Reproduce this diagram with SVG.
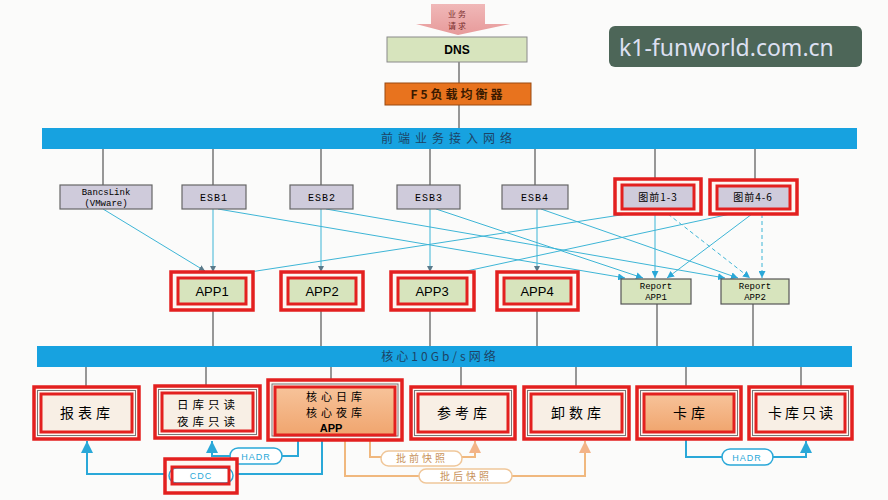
<svg xmlns="http://www.w3.org/2000/svg" width="888" height="500" viewBox="0 0 888 500">
<defs>
<style>
.gw{fill:#cfcbdb;stroke:#666;stroke-width:1.2}
.red{fill:none;stroke:#e3201f;stroke-width:3}
.redw{fill:#fdf7f2;stroke:#e3201f;stroke-width:3.5}
.app{fill:#d7e4bd;stroke:#e3201f;stroke-width:3}
.rep{fill:#d7e4bd;stroke:#555;stroke-width:1.2}
.db{fill:#f8efe5;stroke:#e3201f;stroke-width:3}
.dbo{stroke:#e3201f;stroke-width:3}
.thin{fill:none;stroke:#777;stroke-width:1}
.bar{fill:#17a2e0}
.vl{stroke:#555;stroke-width:1.2;fill:none}
.cy{stroke:#3db5d6;stroke-width:1;fill:none}
.cyd{stroke:#3db5d6;stroke-width:1;fill:none;stroke-dasharray:4 3}
.bl{stroke:#2aa8d8;stroke-width:2;fill:none}
.tan{stroke:#f0b87e;stroke-width:2;fill:none}
.pillb{fill:#fff;stroke:#2aa8d8;stroke-width:1.5}
.pillt{fill:#fff;stroke:#f0c79a;stroke-width:1.5}
.t{font-family:"Liberation Sans",Arial,sans-serif;text-anchor:middle}
.c{font-family:"Noto Sans CJK SC",sans-serif;text-anchor:middle}
.m{font-family:"Liberation Mono","DejaVu Sans Mono",monospace;text-anchor:middle}
</style>
<marker id="ac" viewBox="0 0 10 10" refX="10" refY="5" markerWidth="7" markerHeight="7" markerUnits="userSpaceOnUse" orient="auto"><path d="M0,0 L10,5 L0,10 z" fill="#2aa8d8"/></marker>
<marker id="ad" viewBox="0 0 10 10" refX="10" refY="5" markerWidth="6" markerHeight="6" markerUnits="userSpaceOnUse" orient="auto"><path d="M0,0 L10,5 L0,10 z" fill="#5a7a8a"/></marker>
<marker id="ab" viewBox="0 0 10 10" refX="10" refY="5" markerWidth="12" markerHeight="12" markerUnits="userSpaceOnUse" orient="auto"><path d="M0,0 L10,5 L0,10 z" fill="#2aa8d8"/></marker>
<marker id="at" viewBox="0 0 10 10" refX="10" refY="5" markerWidth="12" markerHeight="12" markerUnits="userSpaceOnUse" orient="auto"><path d="M0,0 L10,5 L0,10 z" fill="#f3b488"/></marker>
<linearGradient id="pk" x1="0" y1="0" x2="0" y2="1"><stop offset="0" stop-color="#f0b8b8"/><stop offset="1" stop-color="#e79a9a"/></linearGradient>
<linearGradient id="or" x1="0" y1="0" x2="0" y2="1"><stop offset="0" stop-color="#f7c39a"/><stop offset="1" stop-color="#f0a56e"/></linearGradient>
</defs>
<rect width="888" height="500" fill="#fbfbfa"/>

<g id="connectors">
<path class="vl" d="M459,62 V83 M459,105 V128"/>
<path class="vl" d="M103,149 V185 M213,149 V185 M321,149 V185 M430,149 V185 M535,149 V185 M655,149 V185 M755,149 V186"/>
<path class="cy" d="M103,209 L205,271" marker-end="url(#ad)"/>
<path class="cy" d="M213,209 V272" marker-end="url(#ad)"/>
<path class="cy" d="M321,209 V272" marker-end="url(#ad)"/>
<path class="cy" d="M430,209 V272" marker-end="url(#ad)"/>
<path class="cy" d="M537,209 V272" marker-end="url(#ad)"/>
<path class="cy" d="M218,209 L625,278" marker-end="url(#ac)"/>
<path class="cy" d="M326,209 L725,278" marker-end="url(#ac)"/>
<path class="cy" d="M436,209 L643,278" marker-end="url(#ac)"/>
<path class="cy" d="M541,209 L738,278" marker-end="url(#ac)"/>
<path class="cy" d="M640,212 L250,272"/>
<path class="cy" d="M735,213 L462,272"/>
<path class="cy" d="M655,214 V278" marker-end="url(#ac)"/>
<path class="cy" d="M752,214 L667,278" marker-end="url(#ac)"/>
<path class="cyd" d="M668,214 L750,278" marker-end="url(#ac)"/>
<path class="cyd" d="M762,214 V278" marker-end="url(#ac)"/>
<path class="vl" d="M213,310 V346 M321,310 V346 M430,310 V346 M537,310 V346 M657,304 V346 M753,304 V346"/>
<path class="vl" d="M86,367 V387 M206,367 V386 M331,367 V380 M461,367 V387 M576,367 V387 M686,367 V387 M801,367 V387"/>
<path class="bl" d="M298,440 V456 H212 V441" marker-end="url(#ab)"/>
<path class="bl" d="M322,440 V474 H87 V441" marker-end="url(#ab)"/>
<path class="tan" d="M370,440 V457 H475 V441" marker-end="url(#at)"/>
<path class="tan" d="M345,440 V476 H585 V441" marker-end="url(#at)"/>
<path class="bl" d="M686,439 V457 H806 V441" marker-end="url(#ab)"/>
</g>

<g id="request">
<path d="M431,4 H485 V24 H510 L458,35 L416,24 H431 Z" fill="url(#pk)"/>
<text class="c" x="458" y="17" font-size="8" fill="#7a2e2e" letter-spacing="2">业务</text>
<text class="c" x="458" y="29" font-size="8" fill="#7a2e2e" letter-spacing="2">请求</text>
</g>
<g id="dns"><rect x="387" y="37" width="140" height="25" fill="#d7e4bd" stroke="#8a8a8a"/><text class="t" x="457" y="54" font-size="12" font-weight="bold">DNS</text></g>
<g id="f5"><rect x="385" y="83" width="146" height="22" fill="#e8731e" stroke="#9a4a10"/><text class="c" x="458" y="99" font-size="12" font-weight="bold" fill="#3a1a00" letter-spacing="3">F5负载均衡器</text></g>
<g id="frontnet"><rect class="bar" x="42" y="128" width="815" height="21"/><text class="c" x="449" y="143" font-size="12" fill="#1d4466" letter-spacing="5">前端业务接入网络</text></g>

<g id="bancslink"><rect class="gw" x="60" y="185" width="92" height="24"/><text class="m" x="106" y="195" font-size="9">BancsLink</text><text class="m" x="106" y="206" font-size="9">(VMware)</text></g>
<g id="esb1"><rect class="gw" x="182" y="185" width="64" height="24"/><text class="m" x="214" y="201" font-size="10" letter-spacing="1">ESB1</text></g>
<g id="esb2"><rect class="gw" x="290" y="185" width="63" height="24"/><text class="m" x="322" y="201" font-size="10" letter-spacing="1">ESB2</text></g>
<g id="esb3"><rect class="gw" x="397" y="185" width="63" height="24"/><text class="m" x="429" y="201" font-size="10" letter-spacing="1">ESB3</text></g>
<g id="esb4"><rect class="gw" x="502" y="185" width="66" height="24"/><text class="m" x="535" y="201" font-size="10" letter-spacing="1">ESB4</text></g>
<g id="tq13"><rect class="redw" x="615" y="179" width="86" height="35"/><rect x="622" y="185" width="72" height="24" fill="#cfcbdb" stroke="#e3201f" stroke-width="3"/><text class="c" x="658" y="201" font-size="10" letter-spacing="1">图前1-3</text></g>
<g id="tq46"><rect class="redw" x="710" y="180" width="87" height="34"/><rect x="717" y="186" width="73" height="23" fill="#cfcbdb" stroke="#e3201f" stroke-width="3"/><text class="c" x="753" y="201" font-size="10" letter-spacing="1">图前4-6</text></g>

<g id="app1"><rect class="redw" x="171" y="272" width="82" height="38"/><rect class="app" x="178" y="278" width="68" height="26"/><text class="t" x="212" y="296" font-size="13">APP1</text></g>
<g id="app2"><rect class="redw" x="281" y="272" width="82" height="38"/><rect class="app" x="288" y="278" width="68" height="26"/><text class="t" x="322" y="296" font-size="13">APP2</text></g>
<g id="app3"><rect class="redw" x="391" y="272" width="83" height="38"/><rect class="app" x="398" y="278" width="69" height="26"/><text class="t" x="432" y="296" font-size="13">APP3</text></g>
<g id="app4"><rect class="redw" x="497" y="272" width="81" height="38"/><rect class="app" x="504" y="278" width="67" height="26"/><text class="t" x="537" y="296" font-size="13">APP4</text></g>
<g id="rapp1"><rect class="rep" x="621" y="279" width="70" height="25"/><text class="m" x="656" y="289" font-size="9">Report</text><text class="m" x="656" y="300" font-size="9">APP1</text></g>
<g id="rapp2"><rect class="rep" x="721" y="279" width="68" height="25"/><text class="m" x="755" y="289" font-size="9">Report</text><text class="m" x="755" y="300" font-size="9">APP2</text></g>

<g id="corenet"><rect class="bar" x="37" y="346" width="815" height="21"/><text class="c" x="440" y="361" font-size="12" fill="#1d4466" letter-spacing="3">核心10Gb/s网络</text></g>

<g id="bbk"><rect class="redw" x="34" y="387" width="105" height="52"/><rect class="thin" x="37.5" y="390.5" width="98" height="45"/><rect class="db" x="41" y="394" width="91" height="38"/><text class="c" x="87" y="418" font-size="14" letter-spacing="4">报表库</text></g>
<g id="rkzd"><rect class="redw" x="155" y="386" width="105" height="52"/><rect class="thin" x="158.5" y="389.5" width="98" height="45"/><rect class="db" x="162" y="393" width="91" height="38"/><text class="c" x="208" y="409" font-size="11.5" letter-spacing="4">日库只读</text><text class="c" x="208" y="426" font-size="11.5" letter-spacing="4">夜库只读</text></g>
<g id="hxk"><rect class="redw" x="268" y="380" width="134" height="60"/><rect class="thin" x="272" y="384" width="126" height="52"/><rect class="dbo" x="275" y="387" width="120" height="48" fill="url(#or)"/><text class="c" x="336" y="401" font-size="11" letter-spacing="4">核心日库</text><text class="c" x="336" y="417" font-size="11" letter-spacing="4">核心夜库</text><text class="t" x="331" y="432" font-size="11" font-weight="bold">APP</text></g>
<g id="ckk"><rect class="redw" x="411" y="387" width="104" height="52"/><rect class="thin" x="414.5" y="390.5" width="97" height="45"/><rect class="db" x="418" y="394" width="90" height="38"/><text class="c" x="464" y="418" font-size="14" letter-spacing="4">参考库</text></g>
<g id="xsk"><rect class="redw" x="524" y="387" width="105" height="52"/><rect class="thin" x="527.5" y="390.5" width="98" height="45"/><rect class="db" x="531" y="394" width="91" height="38"/><text class="c" x="578" y="418" font-size="14" letter-spacing="4">卸数库</text></g>
<g id="kk"><rect class="redw" x="637" y="387" width="104" height="52"/><rect class="thin" x="640.5" y="390.5" width="97" height="45"/><rect class="dbo" x="644" y="394" width="90" height="38" fill="url(#or)"/><text class="c" x="691" y="418" font-size="14" letter-spacing="4">卡库</text></g>
<g id="kkzd"><rect class="redw" x="749" y="387" width="103" height="52"/><rect class="thin" x="752.5" y="390.5" width="96" height="45"/><rect class="db" x="756" y="394" width="89" height="38"/><text class="c" x="802" y="418" font-size="14" letter-spacing="3">卡库只读</text></g>

<g id="hadr1"><rect class="pillb" x="230" y="448" width="52" height="16" rx="8"/><text class="t" x="256" y="460" font-size="9" fill="#2aa8d8" letter-spacing="1">HADR</text></g>
<g id="cdc"><rect class="redw" x="165" y="459" width="72" height="34"/><rect class="pillb" x="169" y="468" width="64" height="15" rx="7.5"/><rect class="red" x="172" y="467" width="57" height="17"/><text class="t" x="201" y="479" font-size="9" fill="#2aa8d8" letter-spacing="1">CDC</text></g>
<g id="pqkz"><rect class="pillt" x="381" y="451" width="81" height="15" rx="7.5"/><text class="c" x="422" y="462" font-size="10" fill="#c8925a" letter-spacing="3">批前快照</text></g>
<g id="phkz"><rect class="pillt" x="419" y="469" width="93" height="14" rx="7"/><text class="c" x="466" y="480" font-size="10" fill="#c8925a" letter-spacing="3">批后快照</text></g>
<g id="hadr2"><rect class="pillb" x="722" y="449" width="51" height="16" rx="8"/><text class="t" x="747" y="461" font-size="9" fill="#2aa8d8" letter-spacing="1">HADR</text></g>

<g id="watermark"><rect x="609" y="26" width="253" height="41" rx="6" fill="#4d6658"/><text x="619" y="56" font-family="'Noto Sans',sans-serif" font-size="23" fill="#dde0f2">k1-funworld.com.cn</text></g>
</svg>
